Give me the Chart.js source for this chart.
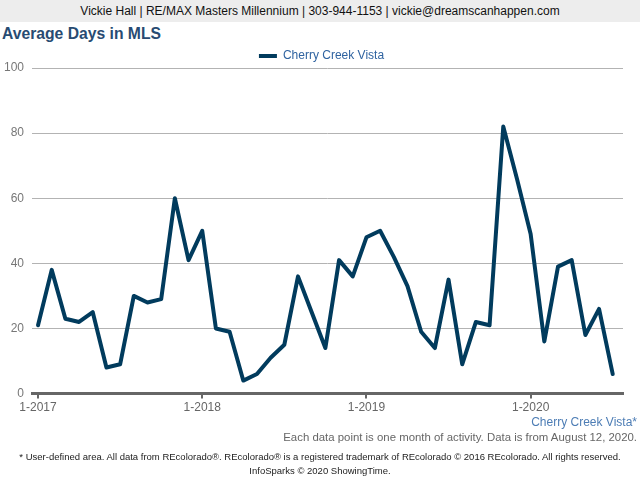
<!DOCTYPE html>
<html>
<head>
<meta charset="utf-8">
<script src="https://cdn.jsdelivr.net/npm/chart.js@4.4.0/dist/chart.umd.min.js"></script>
<style>
  body { margin: 0; width: 640px; height: 480px; overflow: hidden; background: #fff;
         font-family: "Liberation Sans", Arial, Helvetica, sans-serif; position: relative; }
  #header { position: absolute; left: 0; top: 0; width: 640px; height: 22px; background: #ededed;
            text-align: center; font-size: 12px; line-height: 22px; color: #111; }
  #title { position: absolute; left: 2px; top: 25px; font-size: 15.7px; font-weight: bold; color: #284b72; }
  #wrap { position: absolute; left: 0; top: 40px; width: 640px; height: 377px; }
  .note { position: absolute; right: 3px; white-space: nowrap; }
  #area { top: 415px; font-size: 12px; color: #4d7db5; }
  #src { top: 431px; font-size: 11.4px; color: #666; }
  .foot { position: absolute; left: 0; width: 640px; text-align: center; font-size: 9.5px; color: #222; white-space: nowrap; }
</style>
</head>
<body>
<div id="header">Vickie Hall | RE/MAX Masters Millennium | 303-944-1153 | vickie@dreamscanhappen.com</div>
<div id="title">Average Days in MLS</div>
<div id="wrap"><canvas id="chart"></canvas></div>
<div id="area" class="note">Cherry Creek Vista*</div>
<div id="src" class="note">Each data point is one month of activity. Data is from August 12, 2020.</div>
<div class="foot" style="top:451px">* User-defined area. All data from REcolorado®. REcolorado® is a registered trademark of REcolorado © 2016 REcolorado. All rights reserved.</div>
<div class="foot" style="top:465px">InfoSparks © 2020 ShowingTime.</div>
<script>
// months, 1-2017 .. 7-2020
var months = [
  '1-2017','2-2017','3-2017','4-2017','5-2017','6-2017','7-2017','8-2017','9-2017','10-2017','11-2017','12-2017',
  '1-2018','2-2018','3-2018','4-2018','5-2018','6-2018','7-2018','8-2018','9-2018','10-2018','11-2018','12-2018',
  '1-2019','2-2019','3-2019','4-2019','5-2019','6-2019','7-2019','8-2019','9-2019','10-2019','11-2019','12-2019',
  '1-2020','2-2020','3-2020','4-2020','5-2020','6-2020','7-2020'
];
var seriesName = 'Cherry Creek Vista';
var avgDays = [
  21, 38, 23, 22, 25, 8, 9, 30, 28, 29, 60, 41,
  50, 20, 19, 4, 6, 11, 15, 36, 25, 14, 41, 36,
  48, 50, 42, 33, 19, 14, 35, 9, 22, 21, 82, 66,
  49, 16, 39, 41, 18, 26, 6
];
var yTicks = [0, 20, 40, 60, 80, 100];
var xTickIdx = [0, 12, 24, 36];

var points = avgDays.map(function(v, i) { return { x: i, y: v }; });

// pull the plot a bit closer to the legend, and centre the legend on the page
var legendGap = {
    id: 'legendGap',
    beforeInit: function(chart) {
        var fit = chart.legend.fit;
        chart.legend.fit = function() {
            fit.bind(chart.legend)();
            this.height -= 4;
        };
    },
    afterLayout: function(chart) {
        chart.legend.left += 10;
        chart.legend.right += 10;
    }
};

new Chart(document.getElementById('chart').getContext('2d'), {
    type: 'line',
    data: {
        datasets: [{
            label: seriesName,
            data: points,
            borderColor: '#013b5d',
            backgroundColor: '#013b5d',
            borderWidth: 4,
            pointRadius: 0,
            borderCapStyle: 'round',
            borderJoinStyle: 'round',
            tension: 0
        }]
    },
    options: {
        responsive: true,
        maintainAspectRatio: false,
        animation: false,
        layout: { padding: { left: 0, right: 17, top: 0, bottom: 0 } },
        plugins: {
            tooltip: { enabled: false },
            legend: {
                display: true,
                labels: {
                    boxWidth: 18, boxHeight: 4, padding: 10,
                    color: '#2f63a0',
                    font: { size: 12, family: '"Liberation Sans", Arial, sans-serif' },
                    generateLabels: function(chart) {
                        var items = Chart.defaults.plugins.legend.labels.generateLabels(chart);
                        items.forEach(function(it) { it.lineWidth = 0; });
                        return items;
                    }
                }
            }
        },
        scales: {
            x: {
                type: 'linear',
                min: -0.44,
                max: 42.75,
                afterBuildTicks: function(axis) {
                    axis.ticks = xTickIdx.map(function(v) { return { value: v }; });
                },
                ticks: {
                    autoSkip: false,
                    maxRotation: 0,
                    color: '#666',
                    padding: 2,
                    font: { size: 12, family: '"Liberation Sans", Arial, sans-serif' },
                    callback: function(v) { return months[v]; }
                },
                grid: { drawOnChartArea: false, drawTicks: true, tickLength: 5, color: '#666', lineWidth: 2 },
                border: { display: true, color: '#666', width: 3 }
            },
            y: {
                min: 0,
                max: 100,
                afterBuildTicks: function(axis) {
                    axis.ticks = yTicks.map(function(v) { return { value: v }; });
                },
                afterFit: function(axis) { axis.width = 32; },
                ticks: {
                    color: '#777',
                    padding: 8,
                    font: { size: 12, family: '"Liberation Sans", Arial, sans-serif' }
                },
                grid: { color: '#b3b3b3', lineWidth: 1, drawTicks: false },
                border: { display: false }
            }
        }
    },
    plugins: [legendGap]
});
</script>
</body>
</html>
